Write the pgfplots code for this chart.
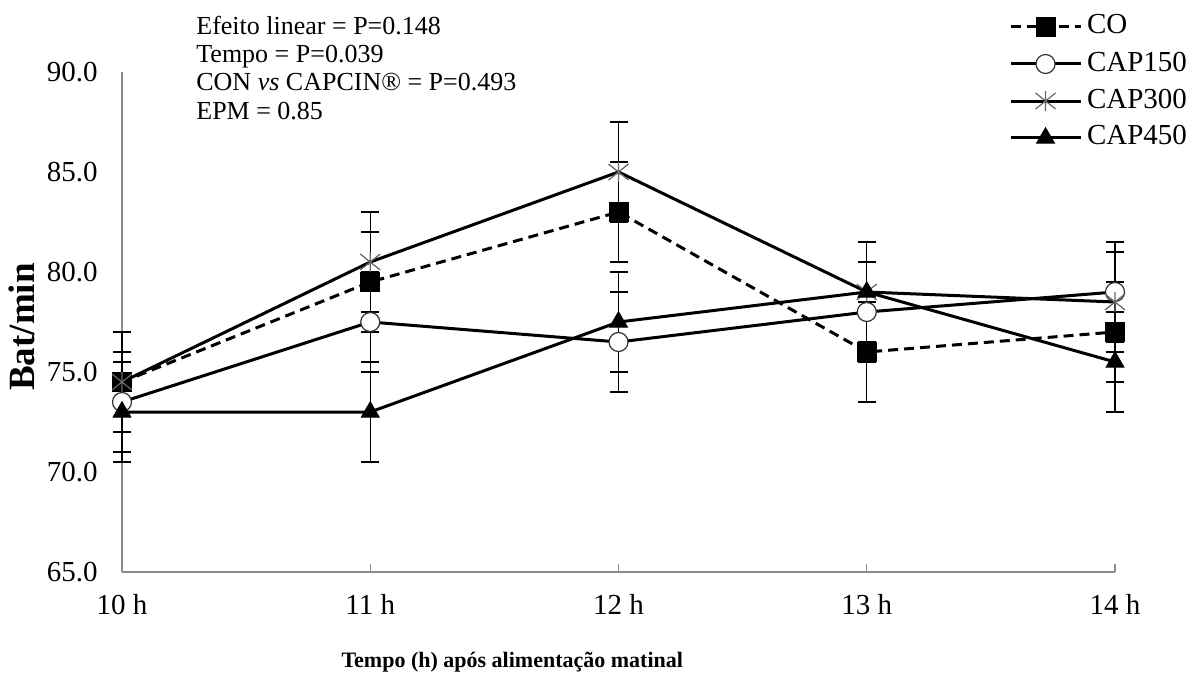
\documentclass[border=0pt]{standalone}
\usepackage{pgfplots}
\pgfplotsset{compat=1.18}
\usepackage{pgfplotstable}
\usepackage{fontspec}
\setmainfont{Liberation Serif}

\pgfdeclareplotmark{xstar}{%
 \pgfpathmoveto{\pgfqpoint{0pt}{\pgfplotmarksize}}%
 \pgfpathlineto{\pgfqpoint{0pt}{-\pgfplotmarksize}}%
 \pgfpathmoveto{\pgfqpoint{-\pgfplotmarksize}{0.8\pgfplotmarksize}}%
 \pgfpathlineto{\pgfqpoint{\pgfplotmarksize}{-0.8\pgfplotmarksize}}%
 \pgfpathmoveto{\pgfqpoint{-\pgfplotmarksize}{-0.8\pgfplotmarksize}}%
 \pgfpathlineto{\pgfqpoint{\pgfplotmarksize}{0.8\pgfplotmarksize}}%
 \pgfusepathqstroke}

\pgfplotstableread{
x y e
0 74.5 2.5
1 79.5 2.5
2 83.0 2.5
3 76.0 2.5
4 77.0 2.5
}\tabCO
\pgfplotstableread{
x y e
0 73.5 2.5
1 77.5 2.5
2 76.5 2.5
3 78.0 2.5
4 79.0 2.5
}\tabCAPa
\pgfplotstableread{
x y e
0 74.5 2.5
1 80.5 2.5
2 85.0 2.5
3 79.0 2.5
4 78.5 2.5
}\tabCAPb
\pgfplotstableread{
x y e
0 73.0 2.5
1 73.0 2.5
2 77.5 2.5
3 79.0 2.5
4 75.5 2.5
}\tabCAPc

\begin{document}
\begin{tikzpicture}
\begin{axis}[
  name=ax,
  scale only axis,
  width=496.5pt, height=250pt,
  xmin=0, xmax=4, ymin=65, ymax=90,
  clip=false,
  axis x line*=bottom, axis y line*=left,
  axis line style={black!45, line width=0.7pt},
  xtick={0,1,2,3,4},
  xticklabels={10 h,11 h,12 h,13 h,14 h},
  ytick={65,70,75,80,85,90},
  tick align=inside,
  major tick length=4pt,
  xtick style={black!45, line width=0.7pt},
  ytick style={draw=none},
  /pgf/number format/assume math mode=true,
  yticklabel style={/pgf/number format/.cd, fixed, fixed zerofill, precision=1, /tikz/.cd,
    font=\fontsize{14.5}{17}\selectfont, inner sep=0pt, anchor=east, xshift=-12pt},
  xticklabel style={font=\fontsize{14.5}{17}\selectfont, inner sep=0pt, anchor=north, yshift=-11pt},
  xlabel={Tempo (h) após alimentação matinal},
  xlabel style={font=\fontsize{11}{13}\selectfont\bfseries, at={(axis description cs:0.393,-0.18)}, anchor=center},
  ylabel={Bat/min},
  ylabel style={font=\fontsize{18.5}{21}\selectfont\bfseries, at={(axis description cs:-0.1007,0.49)}, anchor=center, rotate=0},
  error bars/y dir=both, error bars/y explicit,
  error bars/error bar style={black, line width=0.6pt, solid},
  error bars/error mark options={rotate=90, black, mark size=4.5pt, line width=0.6pt, solid},
  legend image code/.code={\draw[mark repeat=2,mark phase=2] plot coordinates {(0pt,0pt) (17.5pt,0pt) (35pt,0pt)};},
  legend style={draw=none, fill=none, at={(rel axis cs:0.8933,1.116)}, anchor=north west,
    inner sep=0pt, outer sep=0pt, row sep=5.5pt, column sep=2.5pt,
    font=\fontsize{14.5}{17}\selectfont,
    nodes={inner sep=0pt, text height=10pt, text depth=3pt}},
  legend cell align=left,
]
\addplot[black, line width=1.5pt, dash pattern=on 5pt off 3pt, mark=square*, mark size=4.75pt,
  mark options={solid, fill=black, line width=0.5pt}]
  table[x=x, y=y, y error=e] {\tabCO};
\addlegendentry{CO}
\addplot[black, line width=1.5pt, mark=*, mark size=4.75pt,
  mark options={solid, fill=white, draw=black!80, line width=0.6pt}]
  table[x=x, y=y, y error=e] {\tabCAPa};
\addlegendentry{CAP150}
\addplot[black, line width=1.5pt, mark=xstar, mark size=5pt,
  mark options={solid, draw=black!60, line width=0.6pt}]
  table[x=x, y=y, y error=e] {\tabCAPb};
\addlegendentry{CAP300}
\addplot[black, line width=1.5pt, mark=triangle*, mark size=5.2pt,
  mark options={solid, fill=black, line width=0.4pt}]
  table[x=x, y=y, y error=e] {\tabCAPc};
\addlegendentry{CAP450}

\node[anchor=base west, inner sep=0pt, font=\fontsize{13}{15}\selectfont] at (axis cs:0.298,91.85) {Efeito linear = P=0.148};
\node[anchor=base west, inner sep=0pt, font=\fontsize{13}{15}\selectfont] at (axis cs:0.298,90.45) {Tempo = P=0.039};
\node[anchor=base west, inner sep=0pt, font=\fontsize{13}{15}\selectfont] at (axis cs:0.298,89.05) {CON \textit{vs} CAPCIN® = P=0.493};
\node[anchor=base west, inner sep=0pt, font=\fontsize{13}{15}\selectfont] at (axis cs:0.298,87.6) {EPM = 0.85};
\end{axis}
\pgfresetboundingbox
\path[use as bounding box] ([xshift=-61pt,yshift=-54pt]ax.south west) rectangle ([xshift=40pt,yshift=36pt]ax.north east);
\end{tikzpicture}
\end{document}
